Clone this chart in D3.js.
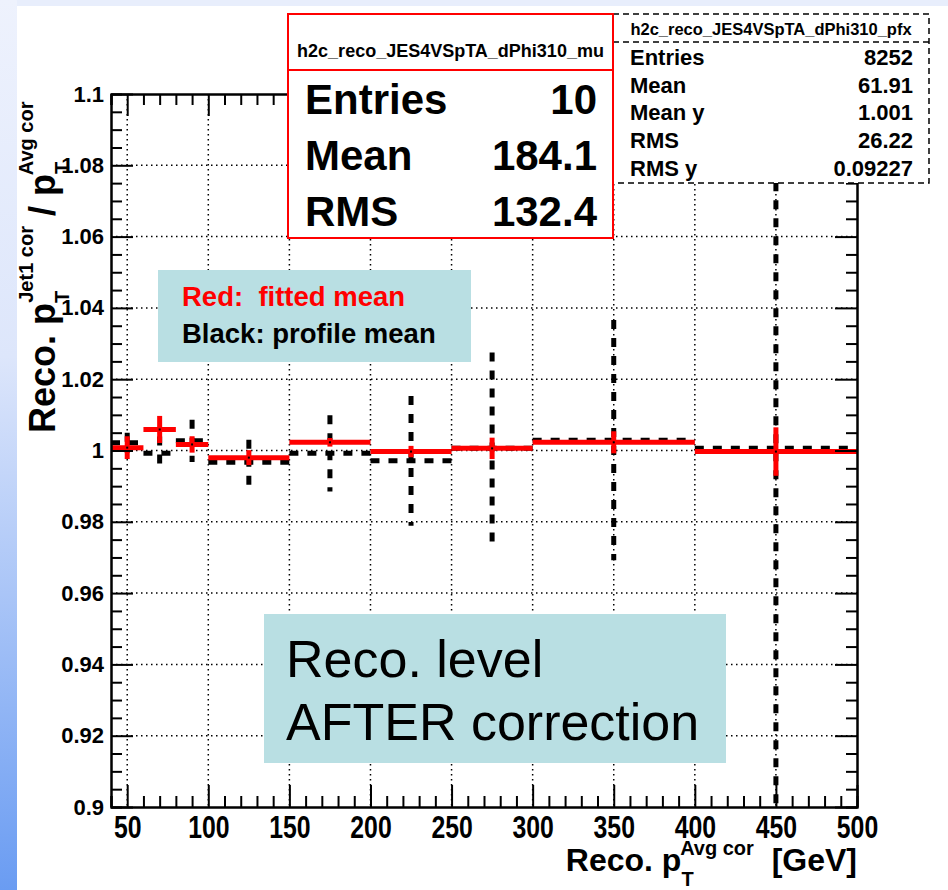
<!DOCTYPE html>
<html>
<head>
<meta charset="utf-8">
<script src="https://cdn.jsdelivr.net/npm/d3@7"></script>
<style>
body { margin: 0; background: #fff; }
text { font-family: "Liberation Sans", Arial, Helvetica, sans-serif; }
</style>
</head>
<body>
<svg id="chart"></svg>
<script>
// Bin edges in Reco. pT (GeV)
const binLo = [40, 60, 80, 100, 150, 200, 250, 300, 400];
const binHi = [60, 80, 100, 150, 200, 250, 300, 400, 500];

// Red: fitted mean
const fitMean = [1.0008, 1.0059, 1.0017, 0.9980, 1.0023, 0.9997, 1.0006, 1.0023, 0.9997];
const fitErr  = [0.0032, 0.0038, 0.0023, 0.0021, 0.0012, 0.0016, 0.0030, 0.0031, 0.0068];

// Black: profile mean
const profMean = [1.0022, 0.9992, 1.0027, 0.9967, 0.9992, 0.9971, 1.0006, 1.0029, 1.0006];
const profErr  = [0.0028, 0.0047, 0.0059, 0.0063, 0.0107, 0.0182, 0.0269, 0.0337, 0.1100];

// Axis ticks
const xTicks = [50, 100, 150, 200, 250, 300, 350, 400, 450, 500];
const yTicks = [0.9, 0.92, 0.94, 0.96, 0.98, 1.0, 1.02, 1.04, 1.06, 1.08, 1.1];
const yTickLabels = ["0.9", "0.92", "0.94", "0.96", "0.98", "1", "1.02", "1.04", "1.06", "1.08", "1.1"];

// Stat boxes
const fitStatsTitle = "h2c_reco_JES4VSpTA_dPhi310_mu";
const fitStats = [["Entries", "10"], ["Mean", "184.1"], ["RMS", "132.4"]];
const profStatsTitle = "h2c_reco_JES4VSpTA_dPhi310_pfx";
const profStats = [["Entries", "8252"], ["Mean", "61.91"], ["Mean y", "1.001"], ["RMS", "26.22"], ["RMS y", "0.09227"]];

const W = 948, H = 890;
const plot = { left: 111, right: 857, top: 94, bottom: 807 };

const svg = d3.select("#chart").attr("width", W).attr("height", H);

// Slide background bands
const defs = svg.append("defs");
const grad = defs.append("linearGradient").attr("id", "band")
    .attr("x1", 0).attr("y1", 0).attr("x2", 0).attr("y2", 1);
grad.append("stop").attr("offset", "0%").attr("stop-color", "#eef2fd");
grad.append("stop").attr("offset", "40%").attr("stop-color", "#dde6fb");
grad.append("stop").attr("offset", "100%").attr("stop-color", "#6a9cf2");
svg.append("rect").attr("width", W).attr("height", H).attr("fill", "#fff");
svg.append("rect").attr("width", W).attr("height", 6).attr("fill", "#e8eefc");
svg.append("rect").attr("width", 17).attr("height", H).attr("fill", "url(#band)");

// Scales
const x = d3.scaleLinear().domain([40, 500]).range([plot.left, plot.right]);
const y = d3.scaleLinear().domain([0.9, 1.1]).range([plot.bottom, plot.top]);

// Dotted grid
const grid = svg.append("g").attr("stroke", "#000").attr("stroke-width", 1.5)
    .attr("stroke-dasharray", "1.5,3.5");
grid.selectAll(null).data(xTicks.filter(d => d < 500)).join("line")
    .attr("x1", d => x(d)).attr("x2", d => x(d))
    .attr("y1", plot.top).attr("y2", plot.bottom);
grid.selectAll(null).data(yTicks.slice(1, -1)).join("line")
    .attr("x1", plot.left).attr("x2", plot.right)
    .attr("y1", d => y(d)).attr("y2", d => y(d));

// Data, clipped to the frame
defs.append("clipPath").attr("id", "clip").append("rect")
    .attr("x", plot.left).attr("y", plot.top)
    .attr("width", plot.right - plot.left).attr("height", plot.bottom - plot.top);
const data = svg.append("g").attr("clip-path", "url(#clip)");
const bins = binLo.map((lo, i) => ({
    lo: lo, hi: binHi[i], c: (lo + binHi[i]) / 2,
    fm: fitMean[i], fe: fitErr[i], pm: profMean[i], pe: profErr[i]
}));

// black profile (dashed)
const prof = data.append("g").attr("stroke", "#000").attr("stroke-width", 5)
    .attr("stroke-dasharray", "9,9");
prof.selectAll(null).data(bins).join("line")
    .attr("x1", d => x(d.lo)).attr("x2", d => x(d.hi))
    .attr("y1", d => y(d.pm)).attr("y2", d => y(d.pm));
prof.selectAll(null).data(bins).join("line")
    .attr("x1", d => x(d.c)).attr("x2", d => x(d.c))
    .attr("y1", d => y(d.pm + d.pe)).attr("y2", d => y(d.pm - d.pe));

// red fitted mean
const fit = data.append("g").attr("stroke", "#ff0000").attr("stroke-width", 5);
fit.selectAll(null).data(bins).join("line")
    .attr("x1", d => x(d.lo)).attr("x2", d => x(d.hi))
    .attr("y1", d => y(d.fm)).attr("y2", d => y(d.fm));
fit.selectAll(null).data(bins).join("line")
    .attr("x1", d => x(d.c)).attr("x2", d => x(d.c))
    .attr("y1", d => y(d.fm + d.fe)).attr("y2", d => y(d.fm - d.fe));
data.selectAll(null).data(bins).join("rect")
    .attr("x", d => x(d.c) - 1).attr("y", d => y(d.fm) - 1)
    .attr("width", 2).attr("height", 2).attr("fill", "#000");

// Axes
function styleAxis(g) {
    g.attr("font-family", "Liberation Sans, Arial, sans-serif").attr("font-weight", "bold");
    g.select(".domain").attr("stroke-width", 2);
    g.selectAll(".tick line").attr("stroke-width", 2);
}
const xMinor = d3.range(40, 501, 10).filter(d => d % 50 !== 0);
const yMinor = d3.range(0, 41).map(i => 0.9 + i * 0.005).filter((d, i) => i % 4 !== 0);

svg.append("g").attr("transform", `translate(0,${plot.bottom})`)
    .call(d3.axisBottom(x).tickValues(xTicks).tickSize(-22).tickSizeOuter(0).tickPadding(9))
    .call(styleAxis)
    .call(g => g.selectAll("text").attr("font-size", 31).attr("transform", "scale(0.8,1)"));
svg.append("g").attr("transform", `translate(0,${plot.bottom})`)
    .call(d3.axisBottom(x).tickValues(xMinor).tickSize(-11).tickFormat(""))
    .call(styleAxis);
svg.append("g").attr("transform", `translate(0,${plot.top})`)
    .call(d3.axisTop(x).tickValues(xTicks).tickSize(-22).tickSizeOuter(0).tickFormat(""))
    .call(styleAxis);
svg.append("g").attr("transform", `translate(0,${plot.top})`)
    .call(d3.axisTop(x).tickValues(xMinor).tickSize(-11).tickFormat(""))
    .call(styleAxis);

svg.append("g").attr("transform", `translate(${plot.left},0)`)
    .call(d3.axisLeft(y).tickValues(yTicks).tickSize(-22).tickSizeOuter(0).tickPadding(7)
        .tickFormat((d, i) => yTickLabels[i]))
    .call(styleAxis)
    .call(g => g.selectAll("text").attr("font-size", 22));
svg.append("g").attr("transform", `translate(${plot.left},0)`)
    .call(d3.axisLeft(y).tickValues(yMinor).tickSize(-11).tickFormat(""))
    .call(styleAxis);
svg.append("g").attr("transform", `translate(${plot.right},0)`)
    .call(d3.axisRight(y).tickValues(yTicks).tickSize(-22).tickSizeOuter(0).tickFormat(""))
    .call(styleAxis);
svg.append("g").attr("transform", `translate(${plot.right},0)`)
    .call(d3.axisRight(y).tickValues(yMinor).tickSize(-11).tickFormat(""))
    .call(styleAxis);

// Axis titles
const xt = svg.append("text").attr("x", plot.right).attr("y", 871)
    .attr("text-anchor", "end").style("font-size", "32px").style("font-weight", "bold")
    .style("white-space", "pre");
xt.append("tspan").text("Reco. p");
xt.append("tspan").attr("dy", 15).style("font-size", "20px").text("T");
xt.append("tspan").attr("dx", -12).attr("dy", -31).style("font-size", "20px").text("Avg cor");
xt.append("tspan").attr("dy", 16).text("  [GeV]");

const yt = svg.append("text").attr("transform", "translate(55,433) rotate(-90)")
    .style("font-size", "36px").style("font-weight", "bold").style("white-space", "pre");
yt.append("tspan").text("Reco. p");
yt.append("tspan").attr("dy", 14).style("font-size", "20px").text("T");
yt.append("tspan").attr("dx", -12).attr("dy", -36).style("font-size", "20px").text("Jet1 cor");
yt.append("tspan").attr("dy", 22).text(" / p");
yt.append("tspan").attr("dy", 14).style("font-size", "20px").text("T");
yt.append("tspan").attr("dx", -12).attr("dy", -36).style("font-size", "20px").text("Avg cor");

// Profile stat box (dashed)
const sb2 = svg.append("g");
sb2.append("rect").attr("x", 613).attr("y", 14).attr("width", 316).attr("height", 169)
    .attr("fill", "#fff").attr("stroke", "#000").attr("stroke-width", 1.5)
    .attr("stroke-dasharray", "6,4");
sb2.append("line").attr("x1", 613).attr("x2", 929).attr("y1", 42).attr("y2", 42)
    .attr("stroke", "#000").attr("stroke-width", 1.5).attr("stroke-dasharray", "6,4");
sb2.append("text").attr("x", 771).attr("y", 35).attr("text-anchor", "middle")
    .style("font-size", "16.5px").style("font-weight", "bold").text(profStatsTitle);
profStats.forEach((r, i) => {
    const by = 65 + i * 27.7;
    sb2.append("text").attr("x", 630).attr("y", by).style("font-size", "22px")
        .style("font-weight", "bold").text(r[0]);
    sb2.append("text").attr("x", 913).attr("y", by).attr("text-anchor", "end")
        .style("font-size", "22px").style("font-weight", "bold").text(r[1]);
});

// Fit stat box (red)
const sb1 = svg.append("g");
sb1.append("rect").attr("x", 288).attr("y", 14).attr("width", 325).attr("height", 224)
    .attr("fill", "#fff").attr("stroke", "#ff0000").attr("stroke-width", 2);
sb1.append("line").attr("x1", 288).attr("x2", 613).attr("y1", 70).attr("y2", 70)
    .attr("stroke", "#ff0000").attr("stroke-width", 2);
sb1.append("text").attr("x", 450.5).attr("y", 57).attr("text-anchor", "middle")
    .style("font-size", "18px").style("font-weight", "bold").text(fitStatsTitle);
fitStats.forEach((r, i) => {
    const by = 114 + i * 56;
    sb1.append("text").attr("x", 305).attr("y", by).style("font-size", "42px")
        .style("font-weight", "bold").text(r[0]);
    sb1.append("text").attr("x", 597).attr("y", by).attr("text-anchor", "end")
        .style("font-size", "42px").style("font-weight", "bold").text(r[1]);
});

// Legend note
const note = svg.append("g");
note.append("rect").attr("x", 158).attr("y", 270).attr("width", 313).attr("height", 92)
    .attr("fill", "#b9dfe3");
note.append("text").attr("x", 182).attr("y", 306).style("font-size", "27.5px")
    .style("font-weight", "bold").style("white-space", "pre").attr("fill", "#ff0000")
    .text("Red:  fitted mean");
note.append("text").attr("x", 182).attr("y", 343).style("font-size", "27.5px")
    .style("font-weight", "bold").attr("fill", "#000").text("Black: profile mean");

// Level label
const lvl = svg.append("g");
lvl.append("rect").attr("x", 264).attr("y", 614).attr("width", 462).attr("height", 149)
    .attr("fill", "#b9dfe3");
lvl.append("text").attr("x", 286).attr("y", 677).style("font-size", "52px").text("Reco. level");
lvl.append("text").attr("x", 286).attr("y", 740).style("font-size", "52px").text("AFTER correction");
</script>
</body>
</html>
